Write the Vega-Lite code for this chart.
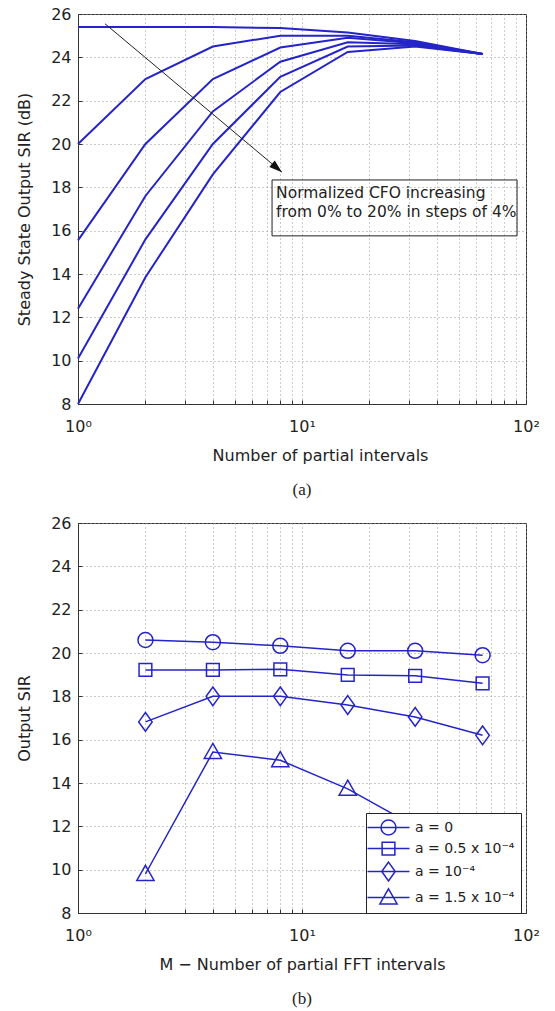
{
  "$schema": "https://vega.github.io/schema/vega-lite/v6.json",
  "background": "white",
  "padding": {"left": 16, "top": 5, "right": 5, "bottom": 0},
  "spacing": 15,
  "resolve": {"legend": {"shape": "independent"}},
  "datasets": {
    "cfo": [
      {"M": 1, "SIR": 25.4, "CFO": "0%"}, {"M": 2, "SIR": 25.4, "CFO": "0%"}, {"M": 4, "SIR": 25.4, "CFO": "0%"}, {"M": 8, "SIR": 25.35, "CFO": "0%"}, {"M": 16, "SIR": 25.15, "CFO": "0%"}, {"M": 32, "SIR": 24.75, "CFO": "0%"}, {"M": 64, "SIR": 24.15, "CFO": "0%"},
      {"M": 1, "SIR": 20.0, "CFO": "4%"}, {"M": 2, "SIR": 23.0, "CFO": "4%"}, {"M": 4, "SIR": 24.5, "CFO": "4%"}, {"M": 8, "SIR": 25.0, "CFO": "4%"}, {"M": 16, "SIR": 25.0, "CFO": "4%"}, {"M": 32, "SIR": 24.7, "CFO": "4%"}, {"M": 64, "SIR": 24.15, "CFO": "4%"},
      {"M": 1, "SIR": 15.55, "CFO": "8%"}, {"M": 2, "SIR": 20.0, "CFO": "8%"}, {"M": 4, "SIR": 23.0, "CFO": "8%"}, {"M": 8, "SIR": 24.45, "CFO": "8%"}, {"M": 16, "SIR": 24.9, "CFO": "8%"}, {"M": 32, "SIR": 24.65, "CFO": "8%"}, {"M": 64, "SIR": 24.15, "CFO": "8%"},
      {"M": 1, "SIR": 12.4, "CFO": "12%"}, {"M": 2, "SIR": 17.6, "CFO": "12%"}, {"M": 4, "SIR": 21.5, "CFO": "12%"}, {"M": 8, "SIR": 23.8, "CFO": "12%"}, {"M": 16, "SIR": 24.7, "CFO": "12%"}, {"M": 32, "SIR": 24.6, "CFO": "12%"}, {"M": 64, "SIR": 24.15, "CFO": "12%"},
      {"M": 1, "SIR": 10.1, "CFO": "16%"}, {"M": 2, "SIR": 15.6, "CFO": "16%"}, {"M": 4, "SIR": 20.0, "CFO": "16%"}, {"M": 8, "SIR": 23.1, "CFO": "16%"}, {"M": 16, "SIR": 24.5, "CFO": "16%"}, {"M": 32, "SIR": 24.55, "CFO": "16%"}, {"M": 64, "SIR": 24.15, "CFO": "16%"},
      {"M": 1, "SIR": 8.0, "CFO": "20%"}, {"M": 2, "SIR": 13.85, "CFO": "20%"}, {"M": 4, "SIR": 18.6, "CFO": "20%"}, {"M": 8, "SIR": 22.4, "CFO": "20%"}, {"M": 16, "SIR": 24.25, "CFO": "20%"}, {"M": 32, "SIR": 24.5, "CFO": "20%"}, {"M": 64, "SIR": 24.15, "CFO": "20%"}
    ],
    "mfft": [
      {"M": 2, "SIR": 20.6, "a": "a = 0"}, {"M": 4, "SIR": 20.5, "a": "a = 0"}, {"M": 8, "SIR": 20.33, "a": "a = 0"}, {"M": 16, "SIR": 20.1, "a": "a = 0"}, {"M": 32, "SIR": 20.1, "a": "a = 0"}, {"M": 64, "SIR": 19.9, "a": "a = 0"},
      {"M": 2, "SIR": 19.22, "a": "a = 0.5 x 10⁻⁴"}, {"M": 4, "SIR": 19.22, "a": "a = 0.5 x 10⁻⁴"}, {"M": 8, "SIR": 19.25, "a": "a = 0.5 x 10⁻⁴"}, {"M": 16, "SIR": 18.99, "a": "a = 0.5 x 10⁻⁴"}, {"M": 32, "SIR": 18.95, "a": "a = 0.5 x 10⁻⁴"}, {"M": 64, "SIR": 18.6, "a": "a = 0.5 x 10⁻⁴"},
      {"M": 2, "SIR": 16.82, "a": "a = 10⁻⁴"}, {"M": 4, "SIR": 18.0, "a": "a = 10⁻⁴"}, {"M": 8, "SIR": 18.0, "a": "a = 10⁻⁴"}, {"M": 16, "SIR": 17.6, "a": "a = 10⁻⁴"}, {"M": 32, "SIR": 17.05, "a": "a = 10⁻⁴"}, {"M": 64, "SIR": 16.2, "a": "a = 10⁻⁴"},
      {"M": 2, "SIR": 9.8, "a": "a = 1.5 x 10⁻⁴"}, {"M": 4, "SIR": 15.43, "a": "a = 1.5 x 10⁻⁴"}, {"M": 8, "SIR": 15.05, "a": "a = 1.5 x 10⁻⁴"}, {"M": 16, "SIR": 13.73, "a": "a = 1.5 x 10⁻⁴"}, {"M": 32, "SIR": 12.0, "a": "a = 1.5 x 10⁻⁴"}, {"M": 64, "SIR": 10.6, "a": "a = 1.5 x 10⁻⁴"}
    ],
    "arrow": [{"x": 1.32, "y": 25.55, "x2": 8.14, "y2": 18.7}],
    "note": [{"x": 7.35, "x2": 91.2, "y": 18.34, "y2": 15.76}],
    "notetext": [
      {"x": 7.66, "y": 17.74, "t": "Normalized CFO increasing"},
      {"x": 7.66, "y": 16.86, "t": "from 0% to 20% in steps of 4%"}
    ]
  },
  "config": {
    "font": "DejaVu Sans",
    "view": {"stroke": "#333333", "strokeWidth": 1},
    "axis": {
      "labelFont": "DejaVu Sans",
      "labelFontSize": 16,
      "labelColor": "#222222",
      "titleFont": "DejaVu Sans",
      "titleFontSize": 16,
      "titleFontWeight": "normal",
      "titleColor": "#222222",
      "domainColor": "#333333",
      "tickColor": "#333333",
      "tickSize": -4,
      "gridColor": "#999999",
      "gridDash": [1, 3],
      "gridWidth": 1,
      "gridOpacity": 1
    },
    "title": {"font": "Liberation Serif", "fontSize": 17, "fontWeight": "normal", "color": "#222222", "orient": "bottom", "anchor": "middle", "frame": "group", "offset": 19}
  },
  "vconcat": [
    {
      "width": 448,
      "height": 390,
      "title": {"text": "(a)"},
      "layer": [
        {
          "data": {"name": "cfo"},
          "mark": {"type": "line", "color": "#2424c8", "strokeWidth": 2},
          "encoding": {
            "x": {"field": "M", "type": "quantitative", "scale": {"type": "log", "domain": [1, 100]},
              "axis": {"title": "Number of partial intervals", "titleX": 242, "values": [1,2,3,4,5,6,7,8,9,10,20,30,40,50,60,70,80,90,100],
                "labelExpr": "datum.value == 1 ? '10⁰' : datum.value == 10 ? '10¹' : datum.value == 100 ? '10²' : ''",
                "labelPadding": 18, "titlePadding": 13, "labelFlush": false, "labelOverlap": false}},
            "y": {"field": "SIR", "type": "quantitative", "scale": {"domain": [8, 26], "nice": false},
              "axis": {"title": "Steady State Output SIR (dB)", "values": [8,10,12,14,16,18,20,22,24,26], "labelPadding": 11, "titlePadding": 18}},
            "detail": {"field": "CFO"}
          }
        },
        {
          "data": {"name": "arrow"},
          "mark": {"type": "rule", "color": "#222222", "strokeWidth": 1},
          "encoding": {
            "x": {"field": "x", "type": "quantitative"},
            "y": {"field": "y", "type": "quantitative"},
            "x2": {"field": "x2"},
            "y2": {"field": "y2"}
          }
        },
        {
          "data": {"name": "arrow"},
          "mark": {"type": "point", "shape": "M0,0L-4,-1.3L-4,1.3Z", "size": 42, "filled": true, "color": "#111111", "opacity": 1, "angle": 40},
          "encoding": {
            "x": {"field": "x2", "type": "quantitative"},
            "y": {"field": "y2", "type": "quantitative"}
          }
        },
        {
          "data": {"name": "note"},
          "mark": {"type": "rect", "fill": "white", "fillOpacity": 0, "stroke": "#222222", "strokeWidth": 1},
          "encoding": {
            "x": {"field": "x", "type": "quantitative"},
            "x2": {"field": "x2"},
            "y": {"field": "y", "type": "quantitative"},
            "y2": {"field": "y2"}
          }
        },
        {
          "data": {"name": "notetext"},
          "mark": {"type": "text", "align": "left", "baseline": "middle", "fontSize": 15.5, "font": "DejaVu Sans", "color": "#222222"},
          "encoding": {
            "x": {"field": "x", "type": "quantitative"},
            "y": {"field": "y", "type": "quantitative"},
            "text": {"field": "t"}
          }
        }
      ]
    },
    {
      "width": 448,
      "height": 390,
      "title": {"text": "(b)"},
      "resolve": {"scale": {"shape": "independent"}, "legend": {"shape": "independent"}},
      "layer": [
        {
          "data": {"name": "mfft"},
          "mark": {"type": "line", "color": "#2424c8", "strokeWidth": 1.5},
          "encoding": {
            "x": {"field": "M", "type": "quantitative", "scale": {"type": "log", "domain": [1, 100]},
              "axis": {"title": "M − Number of partial FFT intervals", "values": [1,2,3,4,5,6,7,8,9,10,20,30,40,50,60,70,80,90,100],
                "labelExpr": "datum.value == 1 ? '10⁰' : datum.value == 10 ? '10¹' : datum.value == 100 ? '10²' : ''",
                "labelPadding": 18, "titlePadding": 13, "labelFlush": false, "labelOverlap": false}},
            "y": {"field": "SIR", "type": "quantitative", "scale": {"domain": [8, 26], "nice": false},
              "axis": {"title": "Output SIR", "values": [8,10,12,14,16,18,20,22,24,26], "labelPadding": 11, "titlePadding": 18}},
            "detail": {"field": "a"}
          }
        },
        {
          "data": {"name": "mfft"},
          "mark": {"type": "point", "filled": false, "size": 225, "strokeWidth": 1.5, "color": "#2424c8", "opacity": 1},
          "encoding": {
            "x": {"field": "M", "type": "quantitative"},
            "y": {"field": "SIR", "type": "quantitative"},
            "shape": {"field": "a", "type": "nominal",
              "scale": {"domain": ["a = 0", "a = 0.5 x 10⁻⁴", "a = 10⁻⁴", "a = 1.5 x 10⁻⁴"],
                "range": ["circle", "M-0.85,-0.85H0.85V0.85H-0.85Z", "M0,-1.25L0.9,0L0,1.25L-0.9,0Z", "M0,-1.15L1.15,0.85L-1.15,0.85Z"]},
              "legend": null
            }
          }
        },
        {
          "data": {"name": "mfft"},
          "mark": {"type": "point", "filled": false, "size": 225, "strokeWidth": 1.5, "color": "#2424c8", "opacity": 0},
          "encoding": {
            "x": {"field": "M", "type": "quantitative"},
            "y": {"field": "SIR", "type": "quantitative"},
            "shape": {"field": "a", "type": "nominal",
              "scale": {"domain": ["a = 0", "a = 0.5 x 10⁻⁴", "a = 10⁻⁴", "a = 1.5 x 10⁻⁴"],
                "range": ["M-2.8,0H2.8M-1,0A1,1 0 1,0 1,0A1,1 0 1,0 -1,0", "M-2.8,0H2.8M-0.85,-0.85H0.85V0.85H-0.85Z", "M-2.8,0H2.8M0,-1.25L0.9,0L0,1.25L-0.9,0Z", "M-2.8,0H2.8M0,-1.15L1.15,0.85L-1.15,0.85Z"]},
              "legend": {
                "title": null,
                "orient": "none",
                "legendX": 288,
                "legendY": 290,
                "fillColor": "white",
                "strokeColor": "#222222",
                "padding": 6,
                "rowPadding": 1,
                "symbolSize": 225,
                "symbolOpacity": 1,
                "symbolStrokeColor": "#2424c8",
                "symbolFillColor": "transparent",
                "symbolStrokeWidth": 1.5,
                "symbolOffset": 8,
                "labelOffset": 18,
                "labelFont": "DejaVu Sans",
                "labelFontSize": 14,
                "labelColor": "#222222",
                "labelLimit": 200
              }
            }
          }
        }
      ]
    }
  ]
}
